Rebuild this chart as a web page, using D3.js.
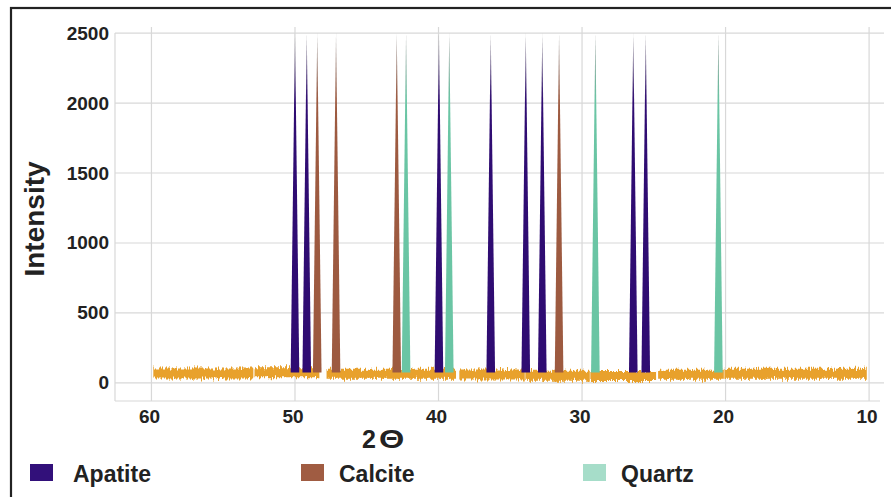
<!DOCTYPE html>
<html>
<head>
<meta charset="utf-8">
<style>
    body { margin: 0; background: #fff; }
    text { font-family: "Liberation Sans", Arial, sans-serif; font-weight: bold; fill: #222; }
</style>
</head>
<body>
<script src="https://cdn.jsdelivr.net/npm/d3@7"></script>
<script>
    // Data (2-theta positions of the diffraction peaks)
    let apatitePeaks = [50.0, 49.18, 39.97, 36.36, 33.92, 32.77, 26.43, 25.56];
    let calcitePeaks = [48.45, 47.14, 42.91, 31.6];
    let quartzPeaks = [42.26, 39.25, 29.07, 20.5];
    let peakTop = 2500;
    let peakBase = 75;
    let peakHalfWidth = 0.3;

    // Background noise, one entry per recorded segment
    let noiseStart = [59.87, 52.82, 47.8, 38.55, 33.95, 29.42, 24.7, 20.08];
    let noiseEnd = [52.9, 48.3, 38.78, 33.99, 29.46, 24.84, 20.12, 10.16];
    let noiseLevel = [68, 76, 66, 60, 52, 50, 58, 66];
    let noiseSpread = 36;

    let xTicks = [60, 50, 40, 30, 20, 10];
    let yTicks = [0, 500, 1000, 1500, 2000, 2500];
    let minerals = ["Apatite", "Calcite", "Quartz"];
    let peakColors = ["#2f0c72", "#9d5a40", "#6ac5a4"];
    let legendColors = ["#32107a", "#a05c42", "#a6ddc9"];

    // Set up SVG
    let width = 891, height = 497;
    let svg = d3.select("body")
        .append("svg")
        .attr("width", width)
        .attr("height", height);

    let x = d3.scaleLinear().domain([62.54, 9.1]).range([115, 882]);
    let y = d3.scaleLinear().domain([-129, 2529]).range([401, 29]);

    let defs = svg.append("defs");

    // gradient that greys out the tip of each peak
    minerals.forEach((m, i) => {
        let g = defs.append("linearGradient")
            .attr("id", "grad" + m)
            .attr("x1", 0).attr("y1", 0).attr("x2", 0).attr("y2", 1);
        g.append("stop").attr("offset", 0).attr("stop-color", "#8f8f8f");
        g.append("stop").attr("offset", 0.2).attr("stop-color", peakColors[i]);
        g.append("stop").attr("offset", 1).attr("stop-color", peakColors[i]);
    });

    // jagged look for the noise band (vertical displacement only)
    let filter = defs.append("filter")
        .attr("id", "jitter")
        .attr("x", "-1%").attr("y", "-80%")
        .attr("width", "102%").attr("height", "260%")
        .attr("color-interpolation-filters", "sRGB");
    filter.append("feTurbulence")
        .attr("type", "fractalNoise")
        .attr("baseFrequency", "0.9 0.08")
        .attr("numOctaves", 2)
        .attr("seed", 4)
        .attr("result", "turb");
    filter.append("feColorMatrix")
        .attr("in", "turb")
        .attr("type", "matrix")
        .attr("values", "0 0 0 0 0.5  0 1 0 0 0  0 0 1 0 0  0 0 0 0 1")
        .attr("result", "map");
    filter.append("feDisplacementMap")
        .attr("in", "SourceGraphic")
        .attr("in2", "map")
        .attr("scale", 9)
        .attr("xChannelSelector", "R")
        .attr("yChannelSelector", "G");

    // Frame
    svg.append("rect")
        .attr("x", 11).attr("y", 8)
        .attr("width", 900).attr("height", 520)
        .attr("fill", "none")
        .attr("stroke", "#222")
        .attr("stroke-width", 2.2);

    // Grid
    let grid = svg.append("g").attr("stroke", "#d8d8d8").attr("stroke-width", 1.2);
    grid.selectAll(".hl")
        .data(yTicks)
        .enter()
        .append("line")
        .attr("x1", 115).attr("x2", 884)
        .attr("y1", (d) => y(d)).attr("y2", (d) => y(d));
    grid.selectAll(".vl")
        .data(xTicks)
        .enter()
        .append("line")
        .attr("x1", (d) => x(d)).attr("x2", (d) => x(d))
        .attr("y1", 27).attr("y2", 401);
    grid.append("line").attr("x1", 115).attr("x2", 115).attr("y1", y(2500)).attr("y2", 401);
    grid.append("line").attr("x1", 115).attr("x2", 880).attr("y1", 401).attr("y2", 401);

    // Noise band
    let band = d3.area()
        .x((d) => x(d.t))
        .y0((d) => y(d.v - noiseSpread))
        .y1((d) => y(d.v + noiseSpread));
    let noiseData = noiseStart.map((s, i) => [
        { t: s, v: noiseLevel[i] },
        { t: noiseEnd[i], v: noiseLevel[i] }
    ]);
    svg.append("g")
        .attr("filter", "url(#jitter)")
        .selectAll("path")
        .data(noiseData)
        .enter()
        .append("path")
        .attr("d", band)
        .attr("fill", "#e8a12c");

    // Peaks
    let peakLine = d3.line().x((d) => x(d[0])).y((d) => y(d[1]));
    let peaks = [apatitePeaks, calcitePeaks, quartzPeaks];
    peaks.forEach((list, i) => {
        svg.append("g")
            .selectAll("path")
            .data(list)
            .enter()
            .append("path")
            .attr("d", (c) => peakLine([
                [c - peakHalfWidth, peakBase],
                [c, peakTop],
                [c + peakHalfWidth, peakBase]
            ]) + "Z")
            .attr("fill", "url(#grad" + minerals[i] + ")");
    });

    // Tick labels
    svg.selectAll(".ytick")
        .data(yTicks)
        .enter()
        .append("text")
        .attr("x", 109)
        .attr("y", (d) => y(d) + 6.5)
        .attr("text-anchor", "end")
        .style("font-size", "19px")
        .text((d) => d);
    svg.selectAll(".xtick")
        .data(xTicks)
        .enter()
        .append("text")
        .attr("x", (d) => x(d) - 2)
        .attr("y", 423)
        .attr("text-anchor", "middle")
        .style("font-size", "19px")
        .text((d) => d);

    // Axis titles
    svg.append("text")
        .attr("transform", "translate(44, 219) rotate(-90)")
        .attr("text-anchor", "middle")
        .style("font-size", "28px")
        .text("Intensity");
    svg.append("text")
        .attr("x", 362)
        .attr("y", 448)
        .style("font-size", "25px")
        .text("2");
    svg.append("text")
        .attr("transform", "translate(379, 448) scale(1.3, 1)")
        .style("font-size", "25px")
        .text("Θ");

    // Legend
    let legendX = [30, 301, 583];
    let legend = svg.selectAll(".legend")
        .data(minerals)
        .enter()
        .append("g")
        .attr("transform", (d, i) => `translate(${legendX[i]}, 464)`);
    legend.append("rect")
        .attr("width", 23)
        .attr("height", 17)
        .attr("fill", (d, i) => legendColors[i]);
    legend.append("text")
        .attr("x", (d, i) => i == 0 ? 43 : 38)
        .attr("y", 17.5)
        .style("font-size", "23px")
        .text((d) => d);
</script>
</body>
</html>
